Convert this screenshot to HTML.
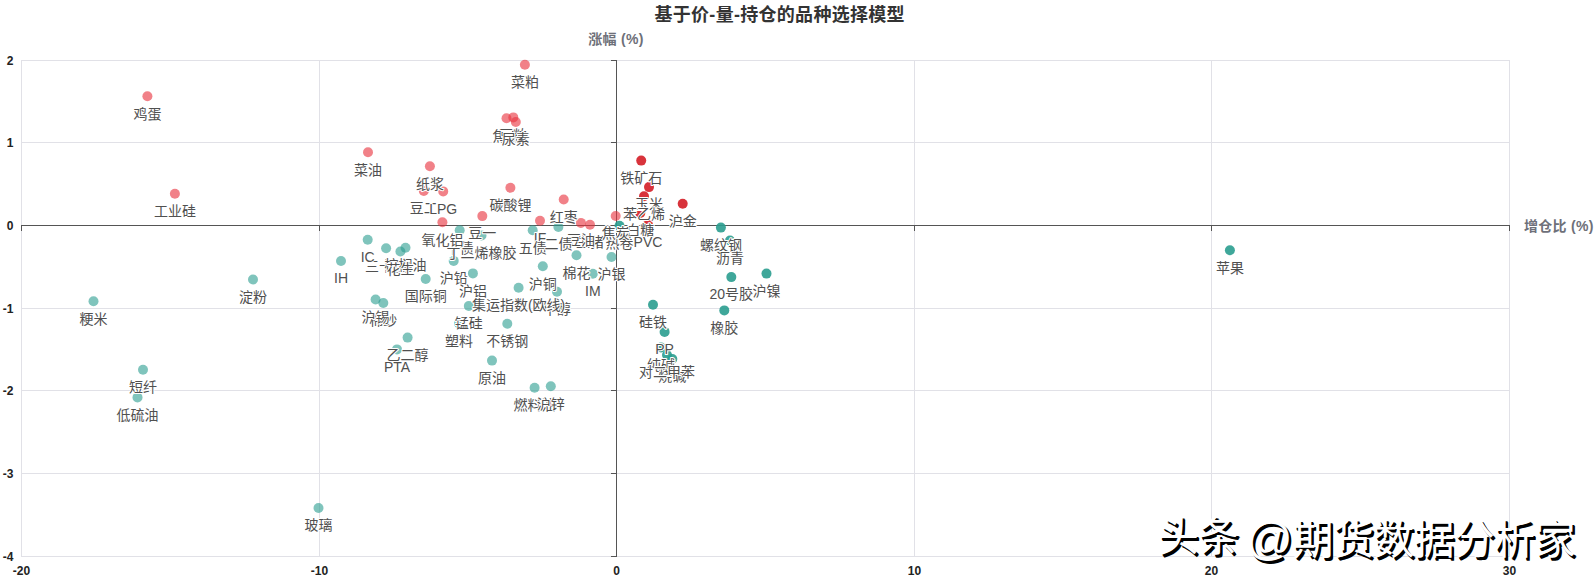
<!DOCTYPE html>
<html lang="zh"><head><meta charset="utf-8"><title>基于价-量-持仓的品种选择模型</title>
<style>
html,body{margin:0;padding:0;background:#fff;}
body{width:1595px;height:578px;overflow:hidden;position:relative;font-family:"Liberation Sans","Noto Sans CJK SC",sans-serif;}
svg{position:absolute;left:0;top:0;display:block}
svg text{font-family:"Liberation Sans","Noto Sans CJK SC",sans-serif;}
.lb text{font-size:14px;fill:#505050;text-anchor:middle;paint-order:stroke;stroke:#fff;stroke-width:2px;stroke-linejoin:round;}
.ax text{font-size:12px;font-weight:bold;fill:#222;}
.nm{letter-spacing:0.3px;font-size:14px;font-weight:bold;fill:#6E7079;}
.ttl{letter-spacing:0.3px;font-size:18px;font-weight:bold;fill:#333;text-anchor:middle;}
.g line{stroke:#E1E1E7;stroke-width:1;shape-rendering:crispEdges}
.a line{stroke:#555;stroke-width:1;shape-rendering:crispEdges}
.wm{position:absolute;top:509px;font-size:41px;letter-spacing:-0.7px;line-height:56px;color:#fff;white-space:nowrap;text-shadow:2.5px 2.5px 0 #000,2px 2px 0 #000;font-family:"Liberation Sans","Noto Sans CJK SC",sans-serif;}
</style></head><body>
<svg width="1595" height="578" viewBox="0 0 1595 578">
<rect width="1595" height="578" fill="#fff"/>
<g class="g">
<line x1="21.5" y1="60" x2="21.5" y2="557"/>
<line x1="319.5" y1="60" x2="319.5" y2="557"/>
<line x1="616.5" y1="60" x2="616.5" y2="557"/>
<line x1="914.5" y1="60" x2="914.5" y2="557"/>
<line x1="1211.5" y1="60" x2="1211.5" y2="557"/>
<line x1="1509.5" y1="60" x2="1509.5" y2="557"/>
<line x1="21" y1="60.5" x2="1510" y2="60.5"/>
<line x1="21" y1="142.5" x2="1510" y2="142.5"/>
<line x1="21" y1="225.5" x2="1510" y2="225.5"/>
<line x1="21" y1="308.5" x2="1510" y2="308.5"/>
<line x1="21" y1="390.5" x2="1510" y2="390.5"/>
<line x1="21" y1="473.5" x2="1510" y2="473.5"/>
<line x1="21" y1="556.5" x2="1510" y2="556.5"/>
</g>
<g class="a">
<line x1="21" y1="225.5" x2="1510" y2="225.5"/>
<line x1="616.5" y1="60" x2="616.5" y2="557"/>
<line x1="21.5" y1="225.5" x2="21.5" y2="231.0"/>
<line x1="319.5" y1="225.5" x2="319.5" y2="231.0"/>
<line x1="616.5" y1="225.5" x2="616.5" y2="231.0"/>
<line x1="914.5" y1="225.5" x2="914.5" y2="231.0"/>
<line x1="1211.5" y1="225.5" x2="1211.5" y2="231.0"/>
<line x1="1509.5" y1="225.5" x2="1509.5" y2="231.0"/>
<line x1="611.0" y1="60.5" x2="616.5" y2="60.5"/>
<line x1="611.0" y1="142.5" x2="616.5" y2="142.5"/>
<line x1="611.0" y1="225.5" x2="616.5" y2="225.5"/>
<line x1="611.0" y1="308.5" x2="616.5" y2="308.5"/>
<line x1="611.0" y1="390.5" x2="616.5" y2="390.5"/>
<line x1="611.0" y1="473.5" x2="616.5" y2="473.5"/>
<line x1="611.0" y1="556.5" x2="616.5" y2="556.5"/>
</g>
<g class="ax">
<text x="21.5" y="575" text-anchor="middle">-20</text>
<text x="319.5" y="575" text-anchor="middle">-10</text>
<text x="616.5" y="575" text-anchor="middle">0</text>
<text x="914.5" y="575" text-anchor="middle">10</text>
<text x="1211.5" y="575" text-anchor="middle">20</text>
<text x="1509.5" y="575" text-anchor="middle">30</text>
<text x="13.5" y="65.0" text-anchor="end">2</text>
<text x="13.5" y="147.0" text-anchor="end">1</text>
<text x="13.5" y="230.0" text-anchor="end">0</text>
<text x="13.5" y="313.0" text-anchor="end">-1</text>
<text x="13.5" y="395.0" text-anchor="end">-2</text>
<text x="13.5" y="478.0" text-anchor="end">-3</text>
<text x="13.5" y="561.0" text-anchor="end">-4</text>
</g>
<text class="ttl" x="779.7" y="21">基于价-量-持仓的品种选择模型</text>
<text class="nm" x="616" y="44" text-anchor="middle">涨幅 (%)</text>
<text class="nm" x="1524" y="230.8">增仓比 (%)</text>
<g fill="#e8333f" fill-opacity="0.62">
<circle cx="147.4" cy="96.2" r="5"/>
<circle cx="174.9" cy="193.7" r="5"/>
<circle cx="368" cy="152.2" r="5"/>
<circle cx="524.9" cy="64.8" r="5"/>
<circle cx="506.5" cy="118.2" r="5"/>
<circle cx="513.3" cy="117.4" r="5"/>
<circle cx="515.8" cy="122" r="5"/>
<circle cx="429.9" cy="166.3" r="5"/>
<circle cx="423.8" cy="191" r="5"/>
<circle cx="443.2" cy="191.4" r="5"/>
<circle cx="510.4" cy="187.8" r="5"/>
<circle cx="442.4" cy="222.3" r="5"/>
<circle cx="482.3" cy="216.1" r="5"/>
<circle cx="563.7" cy="199.5" r="5"/>
<circle cx="540" cy="220.8" r="5"/>
<circle cx="580.9" cy="222.9" r="5"/>
<circle cx="590" cy="224.8" r="5"/>
<circle cx="615.7" cy="216" r="5"/>
</g>
<g fill="#d62830" fill-opacity="0.95">
<circle cx="641.2" cy="160.6" r="5"/>
<circle cx="649" cy="187.1" r="5"/>
<circle cx="644" cy="196.2" r="5"/>
<circle cx="682.7" cy="203.7" r="5"/>
<circle cx="640.3" cy="213" r="5"/>
<circle cx="648" cy="224.9" r="5"/>
</g>
<g fill="#2a9d8f" fill-opacity="0.6">
<circle cx="93.5" cy="301.3" r="5"/>
<circle cx="253" cy="279.5" r="5"/>
<circle cx="143" cy="369.8" r="5"/>
<circle cx="137.5" cy="397.4" r="5"/>
<circle cx="318.5" cy="508" r="5"/>
<circle cx="341" cy="261" r="5"/>
<circle cx="367.7" cy="239.8" r="5"/>
<circle cx="386.1" cy="248.2" r="5"/>
<circle cx="400.4" cy="251.5" r="5"/>
<circle cx="405.5" cy="247.8" r="5"/>
<circle cx="375.6" cy="299.5" r="5"/>
<circle cx="383.3" cy="303" r="5"/>
<circle cx="425.7" cy="279" r="5"/>
<circle cx="459.7" cy="230.2" r="5"/>
<circle cx="481.5" cy="235.5" r="5"/>
<circle cx="453.7" cy="260.9" r="5"/>
<circle cx="472.9" cy="273.4" r="5"/>
<circle cx="532.7" cy="230.3" r="5"/>
<circle cx="558.4" cy="227" r="5"/>
<circle cx="542.8" cy="266.2" r="5"/>
<circle cx="576.5" cy="255.3" r="5"/>
<circle cx="611.5" cy="257" r="5"/>
<circle cx="592.8" cy="273.8" r="5"/>
<circle cx="518.6" cy="287.7" r="5"/>
<circle cx="557" cy="291.8" r="5"/>
<circle cx="468.8" cy="306" r="5"/>
<circle cx="459" cy="323.5" r="5"/>
<circle cx="507.3" cy="323.7" r="5"/>
<circle cx="407.6" cy="337.6" r="5"/>
<circle cx="397" cy="349.4" r="5"/>
<circle cx="492" cy="360.6" r="5"/>
<circle cx="534.6" cy="387.7" r="5"/>
<circle cx="550.8" cy="386.2" r="5"/>
</g>
<g fill="#2a9d8f" fill-opacity="0.9">
<circle cx="619.5" cy="225.8" r="5"/>
<circle cx="720.9" cy="227.6" r="5"/>
<circle cx="730" cy="240.5" r="5"/>
<circle cx="731.3" cy="277.1" r="5"/>
<circle cx="766.5" cy="273.6" r="5"/>
<circle cx="653" cy="304.7" r="5"/>
<circle cx="724.3" cy="310.4" r="5"/>
<circle cx="664.6" cy="331.9" r="5"/>
<circle cx="661" cy="347.5" r="5"/>
<circle cx="667" cy="355" r="5"/>
<circle cx="672.3" cy="359" r="5"/>
<circle cx="1229.9" cy="250.2" r="5"/>
</g>
<g class="lb">
<text x="641.2" y="182.9">铁矿石</text>
<text x="649" y="209.4">玉米</text>
<text x="644" y="218.5">苯乙烯</text>
<text x="682.7" y="226.0">沪金</text>
<text x="640.3" y="235.3">白糖</text>
<text x="648" y="247.2">PVC</text>
<text x="661" y="369.8">纯碱</text>
<text x="672.3" y="381.3">烧碱</text>
<text x="619.5" y="248.1">热卷</text>
<text x="720.9" y="249.9">螺纹钢</text>
<text x="730" y="262.8">沥青</text>
<text x="731.3" y="299.4">20号胶</text>
<text x="766.5" y="295.9">沪镍</text>
<text x="653" y="327.0">硅铁</text>
<text x="724.3" y="332.7">橡胶</text>
<text x="664.6" y="354.2">PP</text>
<text x="667" y="377.3">对二甲苯</text>
<text x="1229.9" y="272.5">苹果</text>
<text x="506.5" y="140.5">焦煤</text>
<text x="513.3" y="139.7">豆粕</text>
<text x="590" y="247.1">生猪</text>
<text x="147.4" y="118.5">鸡蛋</text>
<text x="174.9" y="216.0">工业硅</text>
<text x="368" y="174.5">菜油</text>
<text x="524.9" y="87.1">菜粕</text>
<text x="429.9" y="188.6">纸浆</text>
<text x="423.8" y="213.3">豆二</text>
<text x="443.2" y="213.7">LPG</text>
<text x="510.4" y="210.1">碳酸锂</text>
<text x="482.3" y="238.4">豆一</text>
<text x="563.7" y="221.8">红枣</text>
<text x="540" y="243.1">IF</text>
<text x="580.9" y="245.2">豆油</text>
<text x="515.8" y="144.3">尿素</text>
<text x="386.1" y="270.5">三十债</text>
<text x="405.5" y="270.1">棕榈油</text>
<text x="383.3" y="325.3">棉纱</text>
<text x="557" y="314.1">甲醇</text>
<text x="459.7" y="252.5">十债</text>
<text x="93.5" y="323.6">粳米</text>
<text x="253" y="301.8">淀粉</text>
<text x="143" y="392.1">短纤</text>
<text x="137.5" y="419.7">低硫油</text>
<text x="318.5" y="530.3">玻璃</text>
<text x="341" y="283.3">IH</text>
<text x="367.7" y="262.1">IC</text>
<text x="400.4" y="273.8">花生</text>
<text x="375.6" y="321.8">沪锡</text>
<text x="425.7" y="301.3">国际铜</text>
<text x="481.5" y="257.8">丁二烯橡胶</text>
<text x="453.7" y="283.2">沪铅</text>
<text x="472.9" y="295.7">沪铝</text>
<text x="532.7" y="252.6">五债</text>
<text x="558.4" y="249.3">二债</text>
<text x="542.8" y="288.5">沪铜</text>
<text x="576.5" y="277.6">棉花</text>
<text x="611.5" y="279.3">沪银</text>
<text x="592.8" y="296.1">IM</text>
<text x="518.6" y="310.0">集运指数(欧线)</text>
<text x="468.8" y="328.3">锰硅</text>
<text x="459" y="345.8">塑料</text>
<text x="507.3" y="346.0">不锈钢</text>
<text x="407.6" y="359.9">乙二醇</text>
<text x="397" y="371.7">PTA</text>
<text x="492" y="382.9">原油</text>
<text x="534.6" y="410.0">燃料油</text>
<text x="550.8" y="408.5">沪锌</text>
<text x="442.4" y="244.6">氧化铝</text>
<text x="615.7" y="238.3">焦炭</text>
</g>
</svg>
<div class="wm" style="left:1157.7px">头条</div><div class="wm" style="left:1246px;font-size:46px;top:511px">@</div><div class="wm" style="left:1292.6px;top:512.3px">期货数据分析家</div>
</body></html>
